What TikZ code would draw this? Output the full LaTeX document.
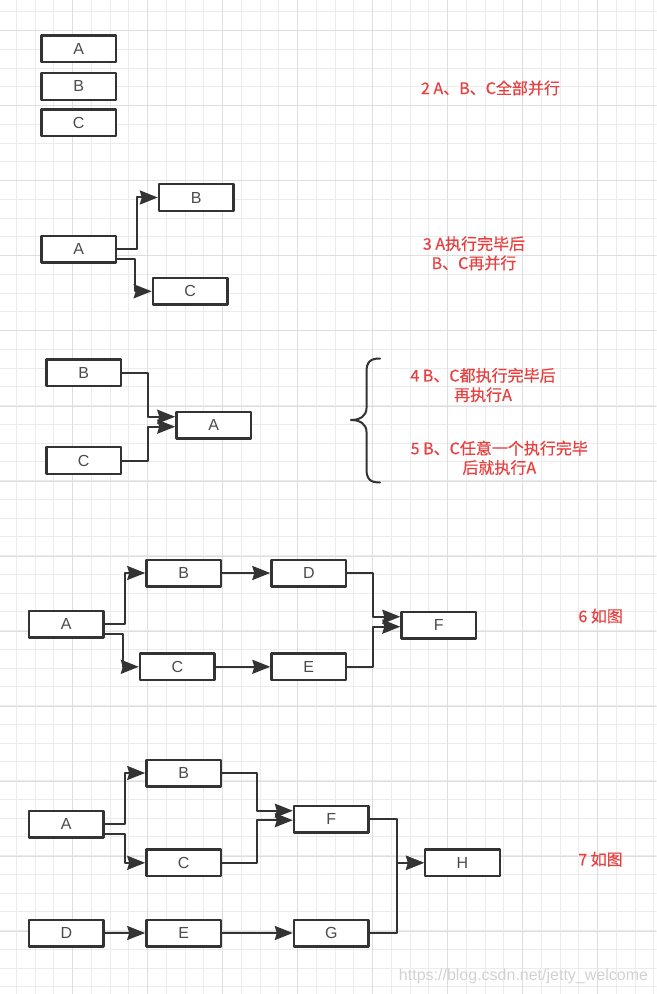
\documentclass[tikz,border=0pt]{standalone}
\usepackage{fontspec}
\setmainfont{Liberation Sans}
\newfontfamily\cjk[FakeBold=0.5]{Noto Sans CJK SC}
\usetikzlibrary{arrows.meta,calc}
\definecolor{gridfine}{RGB}{236,236,236}
\definecolor{gridbold}{RGB}{222,222,222}
\definecolor{boxline}{RGB}{51,51,51}
\definecolor{boxtext}{RGB}{75,75,75}
\definecolor{notered}{RGB}{232,64,64}
\begin{document}
\begin{tikzpicture}[x=0.75pt, y=-0.75pt, line cap=round, line join=round, >={Stealth[length=13.5pt,width=10.5pt,inset=1.5pt]}]
	\tikzset{box/.style={draw=boxline, line width=1.8pt, fill=white, minimum width=55.95pt, minimum height=19.95pt, inner sep=0pt, text=boxtext, font=\fontsize{12pt}{14pt}\selectfont},
		flow/.style={->, draw=boxline, line width=1.5pt},
		note/.style={text=notered, align=center, font=\cjk\fontsize{12pt}{14.5pt}\selectfont}}
	\useasboundingbox (0,0) rectangle (656,994);
	\fill[white] (0,0) rectangle (656,994);
	\foreach \k in {0,...,34} \draw[gridfine, line width=0.75pt] ({16.45+18.75*\k},0)--({16.45+18.75*\k},994);
	\foreach \k in {0,...,52} \draw[gridfine, line width=0.75pt] (0,{11.9+18.75*\k})--(656,{11.9+18.75*\k});
	\foreach \k in {0,...,7} \draw[gridbold, line width=0.75pt] ({72.7+75*\k},0)--({72.7+75*\k},994);
	\foreach \k in {0,...,12} \draw[gridbold, line width=0.75pt] (0,{31+75*\k})--(656,{31+75*\k});
	\node[box] (a1) at (78.7,48.7) {A};
	\node[box] (b1) at (78.7,86.5) {B};
	\node[box] (c1) at (78.7,122.8) {C};
	\node[note] (n2) at (490.5,88) {2 A、B、C全部并行};
	\node[box] (a2) at (78.7,249.2) {A};
	\node[box] (b2) at (196.3,197.5) {B};
	\node[box] (c2) at (190.2,291.3) {C};
	\node[note] (n3) at (474,253.3) {3 A执行完毕后\\B、C再并行};
	\draw[flow] (a2.east) -- ++(20,0) |- (b2.west);
	\draw[flow] (a2.east) ++(0,10) -- ++(17.5,0) |- (c2.west);
	\node[box] (b3) at (83.7,372.8) {B};
	\node[box] (c3) at (83.7,460.5) {C};
	\node[box] (a3) at (213.7,425.3) {A};
	\draw[flow] (b3.east) -- ++(26,0) |- ($(a3.west)+(0,-8.6)$);
	\draw[flow] (c3.east) -- ++(26,0) |- ($(a3.west)+(0,1.4)$);
	\draw[boxline, line width=1.5pt] (380,358.5) .. controls (370,358.5) and (366.5,362) .. (366.5,372) -- (366.5,408)
		.. controls (366.5,416) and (360,420) .. (351,420) .. controls (360,420) and (366.5,424) .. (366.5,432)
		-- (366.5,469) .. controls (366.5,479) and (370,482.5) .. (380,482.5);
	\node[note] (n4) at (483,385) {4 B、C都执行完毕后\\再执行A};
	\node[note] (n5) at (499.3,457.8) {5 B、C任意一个执行完毕\\后就执行A};
	\node[box] (a6) at (66.3,624.2) {A};
	\node[box] (b6) at (183.7,573) {B};
	\node[box] (c6) at (177.3,666.8) {C};
	\node[box] (d6) at (308.8,573) {D};
	\node[box] (e6) at (308.8,666.8) {E};
	\node[box] (f6) at (438.8,625.3) {F};
	\node[note] (n6) at (600.7,616) {6 如图};
	\draw[flow] (a6.east) -- ++(20,0) |- (b6.west);
	\draw[flow] (a6.east) ++(0,10) -- ++(18.3,0) |- (c6.west);
	\draw[flow] (b6) -- (d6);
	\draw[flow] (c6) -- (e6);
	\draw[flow] (d6.east) -- ++(25.6,0) |- ($(f6.west)+(0,-8.6)$);
	\draw[flow] (e6.east) -- ++(25.6,0) |- ($(f6.west)+(0,1.4)$);
	\node[box] (a7) at (66.3,824.2) {A};
	\node[box] (b7) at (183.7,773) {B};
	\node[box] (c7) at (183.7,862.8) {C};
	\node[box] (f7) at (331.3,819.2) {F};
	\node[box] (h7) at (462.5,862.8) {H};
	\node[box] (d7) at (66.3,933) {D};
	\node[box] (e7) at (183.7,933) {E};
	\node[box] (g7) at (331.3,933) {G};
	\node[note] (n7) at (600.5,859.3) {7 如图};
	\draw[flow] (a7.east) -- ++(20,0) |- (b7.west);
	\draw[flow] (a7.east) ++(0,10) -- ++(20,0) |- (c7.west);
	\draw[flow] (b7.east) -- ++(35,0) |- ($(f7.west)+(0,-8.5)$);
	\draw[flow] (c7.east) -- ++(35,0) |- ($(f7.west)+(0,1)$);
	\draw[flow] (f7.east) -- ++(27.3,0) |- (h7.west);
	\draw[flow] (g7.east) -- ++(27.3,0) |- (h7.west);
	\draw[flow] (d7) -- (e7);
	\draw[flow] (e7) -- (g7);
	\node[text=gray!35, font=\fontsize{12pt}{14pt}\selectfont] (wm) at (523.5,976) {https://blog.csdn.net/jetty\_welcome};
\end{tikzpicture}
\end{document}
